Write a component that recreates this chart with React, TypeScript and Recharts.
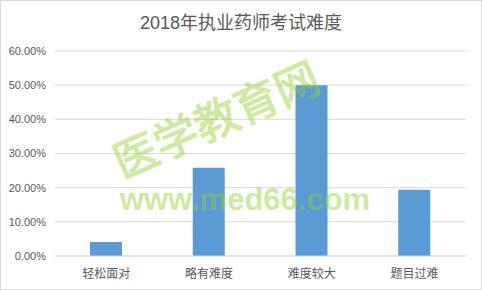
import { BarChart, Bar, XAxis, YAxis, CartesianGrid } from "recharts";

// 2018 licensed pharmacist exam: how hard candidates found it (percent of answers)
const categories = ["轻松面对", "略有难度", "难度较大", "题目过难"];
const shares = [4.1, 25.8, 50.0, 19.4];
const yTicks = [0, 10, 20, 30, 40, 50, 60];

const chartData = categories.map((name, i) => ({ name, share: shares[i] }));

const LATIN_CJK = '"Liberation Sans", "Noto Sans CJK SC", sans-serif';
const CJK = '"Noto Sans CJK SC", sans-serif';

export default function App() {
  return (
    <div
      style={{
        position: "absolute",
        left: 0,
        top: 0,
        width: 482,
        height: 290,
        boxSizing: "border-box",
        border: "1px solid #d9d9d9",
        background: "#fff",
        overflow: "hidden",
      }}
    >
      <div
        style={{
          position: "absolute",
          left: 0,
          top: 0,
          width: 482,
          height: 290,
          marginLeft: -1,
          marginTop: -1,
        }}
      >
        <BarChart
          width={482}
          height={290}
          data={chartData}
          margin={{ top: 51, right: 16, bottom: 0, left: 0 }}
        >
          <CartesianGrid vertical={false} stroke="#d9d9d9" />
          <XAxis
            dataKey="name"
            height={34}
            tickLine={false}
            tickSize={0}
            tickMargin={13}
            axisLine={{ stroke: "#d9d9d9" }}
            tick={{ fontSize: 12, fill: "#595959", fontFamily: CJK }}
          />
          <YAxis
            width={55}
            domain={[0, 60]}
            ticks={yTicks}
            interval={0}
            axisLine={false}
            tickLine={false}
            tickSize={0}
            tickMargin={9}
            tickFormatter={(v: number) => `${v.toFixed(2)}%`}
            tick={{ fontSize: 11, fill: "#595959", fontFamily: LATIN_CJK }}
          />
          <Bar dataKey="share" fill="#5b9bd5" barSize={32} isAnimationActive={false} />
        </BarChart>

        {/* title and site watermark drawn over the plot */}
        <svg
          width={482}
          height={290}
          style={{ position: "absolute", left: 0, top: 0, pointerEvents: "none" }}
        >
          <text
            x={241}
            y={29}
            textAnchor="middle"
            fontSize={18}
            fill="#595959"
            fontFamily={LATIN_CJK}
          >
            2018年执业药师考试难度
          </text>
          <g opacity={0.45} fill="rgb(147,210,49)" stroke="rgb(147,210,49)">
            <text
              x={0}
              y={0}
              transform="translate(215,117) rotate(-24)"
              textAnchor="middle"
              dominantBaseline="central"
              fontSize={44}
              strokeWidth={1.2}
              fontFamily={CJK}
            >
              医学教育网
            </text>
            <text
              x={245}
              y={210}
              textAnchor="middle"
              fontSize={31}
              fontWeight="bold"
              strokeWidth={0}
              fontFamily='"Liberation Sans", sans-serif'
            >
              www.med66.com
            </text>
          </g>
        </svg>
      </div>
    </div>
  );
}
